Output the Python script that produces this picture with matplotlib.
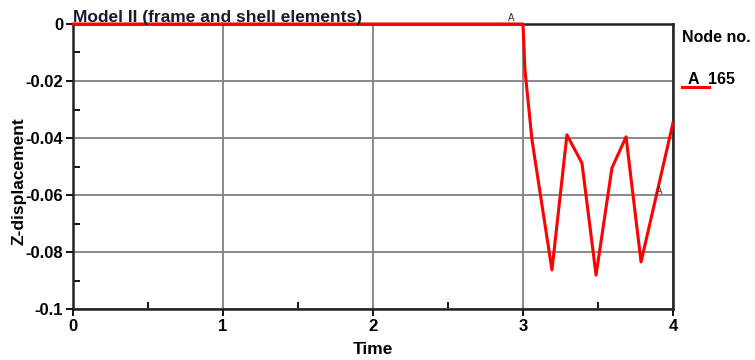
import matplotlib
matplotlib.use("Agg")
import matplotlib.pyplot as plt
from matplotlib.ticker import MultipleLocator

plt.rcParams['font.family'] = ['Liberation Sans', 'DejaVu Sans']
plt.rcParams['font.weight'] = 'bold'

# node 165 z-displacement vs time
time = [0.0, 3.0, 3.013, 3.06, 3.193, 3.293, 3.393, 3.487, 3.593, 3.687, 3.787, 4.0]
z_disp = [0.0, 0.0, -0.0161, -0.0407, -0.0863, -0.0389, -0.0488, -0.0881,
          -0.0505, -0.0396, -0.0835, -0.0347]
marker_t = [2.92, 3.91]
marker_z = [0.0005, -0.0605]
node = "165"

fig = plt.figure(figsize=(7.55, 3.6), dpi=100)
ax = fig.add_axes([73/755, 51/360, 600/755, 285/360])

ax.plot(time, z_disp, color='red', lw=2.2, zorder=3, clip_on=False)
for t, z in zip(marker_t, marker_z):
    ax.text(t, z, 'A', fontsize=7, fontweight='normal', color='#333333',
            ha='center', va='bottom', zorder=4)

ax.set_xlim(0, 4)
ax.set_ylim(-0.1, 0)
ax.xaxis.set_major_locator(MultipleLocator(1))
ax.xaxis.set_minor_locator(MultipleLocator(0.5))
ax.yaxis.set_major_locator(MultipleLocator(0.02))
ax.yaxis.set_minor_locator(MultipleLocator(0.01))
ax.yaxis.set_major_formatter(plt.FuncFormatter(lambda v, p: '0' if abs(v) < 1e-9 else ('%g' % round(v, 3))))

ax.grid(True, which='major', color='#808080', lw=1.3)
ax.tick_params(which='major', direction='out', length=5, width=1.3, labelsize=12, pad=2)
ax.tick_params(which='minor', direction='in', length=5, width=1.3)
for s in ax.spines.values():
    s.set_linewidth(1.8)
    s.set_color('#222222')

ax.set_xlabel('Time', fontsize=12.5, fontweight='bold', labelpad=6)
ax.set_ylabel('Z-displacement', fontsize=12.5, fontweight='bold')
ax.yaxis.set_label_coords(-0.077, 0.447)
ax.text(0.0, 0.995, 'Model II (frame and shell elements)', transform=ax.transAxes,
        fontsize=12.5, fontweight='bold', color='#1a1a2e', ha='left', va='bottom')

fig.text(682/755, 1 - 38/360, 'Node no.', fontsize=11.5, fontweight='bold', ha='left', va='center')
fig.text(688/755, 1 - 80/360, 'A', fontsize=11.5, fontweight='bold', ha='left', va='center')
fig.text(708/755, 1 - 80/360, node, fontsize=11.5, fontweight='bold', ha='left', va='center')
fig.add_artist(plt.Line2D([682/755, 709/755], [1 - 87/360, 1 - 87/360], color='red', lw=2.2))

fig.savefig('out.png', dpi=100)
